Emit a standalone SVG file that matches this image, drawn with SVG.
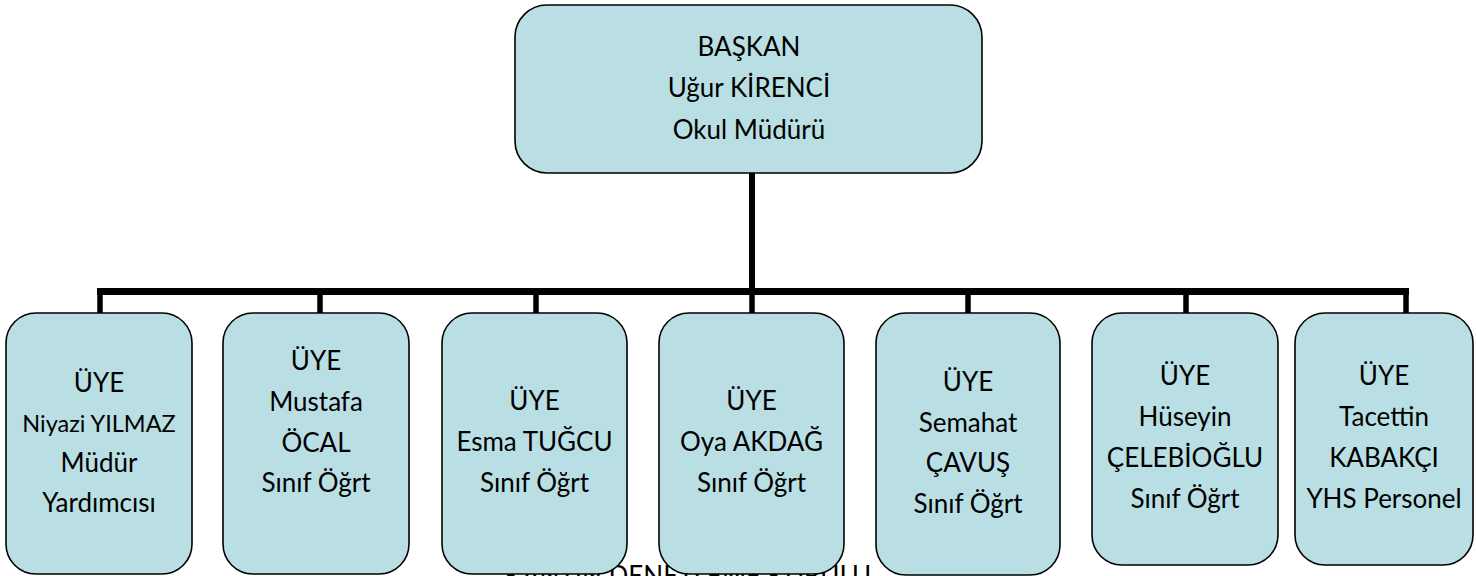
<svg xmlns="http://www.w3.org/2000/svg" width="1476" height="576" viewBox="0 0 1476 576">
<style>
  .box { fill: #B9DFE4; stroke: #000; stroke-width: 1.6; }
  .t { font-family: Lato, "Open Sans", "DejaVu Sans", sans-serif; font-size: 26px; fill: #000; text-anchor: middle; }
  .s { font-size: 23.5px; }
  .ln { stroke: #000; fill: none; stroke-linecap: butt; }
</style>
<rect width="1476" height="576" fill="#fff"/>
<text class="t" x="688" y="585">KANTİN DENETLEME KURULU</text>
<g id="connectors">
  <line class="ln" x1="752" y1="173" x2="752" y2="292" stroke-width="6"/>
  <line class="ln" x1="97" y1="291.5" x2="1409" y2="291.5" stroke-width="7"/>
  <line class="ln" x1="100" y1="291" x2="100" y2="313" stroke-width="5.5"/>
  <line class="ln" x1="320" y1="291" x2="320" y2="313" stroke-width="5.5"/>
  <line class="ln" x1="536" y1="291" x2="536" y2="313" stroke-width="5.5"/>
  <line class="ln" x1="752" y1="291" x2="752" y2="313" stroke-width="5.5"/>
  <line class="ln" x1="968" y1="291" x2="968" y2="313" stroke-width="5.5"/>
  <line class="ln" x1="1186" y1="291" x2="1186" y2="313" stroke-width="5.5"/>
  <line class="ln" x1="1406" y1="291" x2="1406" y2="313" stroke-width="5.5"/>
</g>
<g id="baskan">
  <rect class="box" x="515" y="5" width="467" height="168" rx="32"/>
  <text class="t" x="749" y="55.5">BAŞKAN</text>
  <text class="t" x="749" y="97">Uğur KİRENCİ</text>
  <text class="t" x="749" y="138.5">Okul Müdürü</text>
</g>
<g id="uye1">
  <rect class="box" x="6" y="313" width="186" height="261" rx="30"/>
  <text class="t" x="99" y="392">ÜYE</text>
  <text class="t s" x="99" y="432">Niyazi YILMAZ</text>
  <text class="t" x="99" y="472">Müdür</text>
  <text class="t" x="99" y="512">Yardımcısı</text>
</g>
<g id="uye2">
  <rect class="box" x="223" y="313" width="186" height="261" rx="30"/>
  <text class="t" x="316" y="370">ÜYE</text>
  <text class="t" x="316" y="411">Mustafa</text>
  <text class="t" x="316" y="452">ÖCAL</text>
  <text class="t" x="316" y="492">Sınıf Öğrt</text>
</g>
<g id="uye3">
  <rect class="box" x="442" y="313" width="185" height="261" rx="30"/>
  <text class="t" x="534.5" y="410">ÜYE</text>
  <text class="t" x="534.5" y="451">Esma TUĞCU</text>
  <text class="t" x="534.5" y="492">Sınıf Öğrt</text>
</g>
<g id="uye4">
  <rect class="box" x="659" y="313" width="185" height="261" rx="30"/>
  <text class="t" x="751.5" y="410">ÜYE</text>
  <text class="t" x="751.5" y="451">Oya AKDAĞ</text>
  <text class="t" x="751.5" y="492">Sınıf Öğrt</text>
</g>
<g id="uye5">
  <rect class="box" x="876" y="313" width="184" height="262" rx="30"/>
  <text class="t" x="968" y="391">ÜYE</text>
  <text class="t" x="968" y="432">Semahat</text>
  <text class="t" x="968" y="472">ÇAVUŞ</text>
  <text class="t" x="968" y="513">Sınıf Öğrt</text>
</g>
<g id="uye6">
  <rect class="box" x="1092" y="313" width="186" height="252" rx="30"/>
  <text class="t" x="1185" y="385">ÜYE</text>
  <text class="t" x="1185" y="426">Hüseyin</text>
  <text class="t" x="1185" y="467">ÇELEBİOĞLU</text>
  <text class="t" x="1185" y="508">Sınıf Öğrt</text>
</g>
<g id="uye7">
  <rect class="box" x="1295" y="313" width="178" height="252" rx="30"/>
  <text class="t" x="1384" y="385">ÜYE</text>
  <text class="t" x="1384" y="426">Tacettin</text>
  <text class="t" x="1384" y="467">KABAKÇI</text>
  <text class="t" x="1384" y="508">YHS Personel</text>
</g>
</svg>
